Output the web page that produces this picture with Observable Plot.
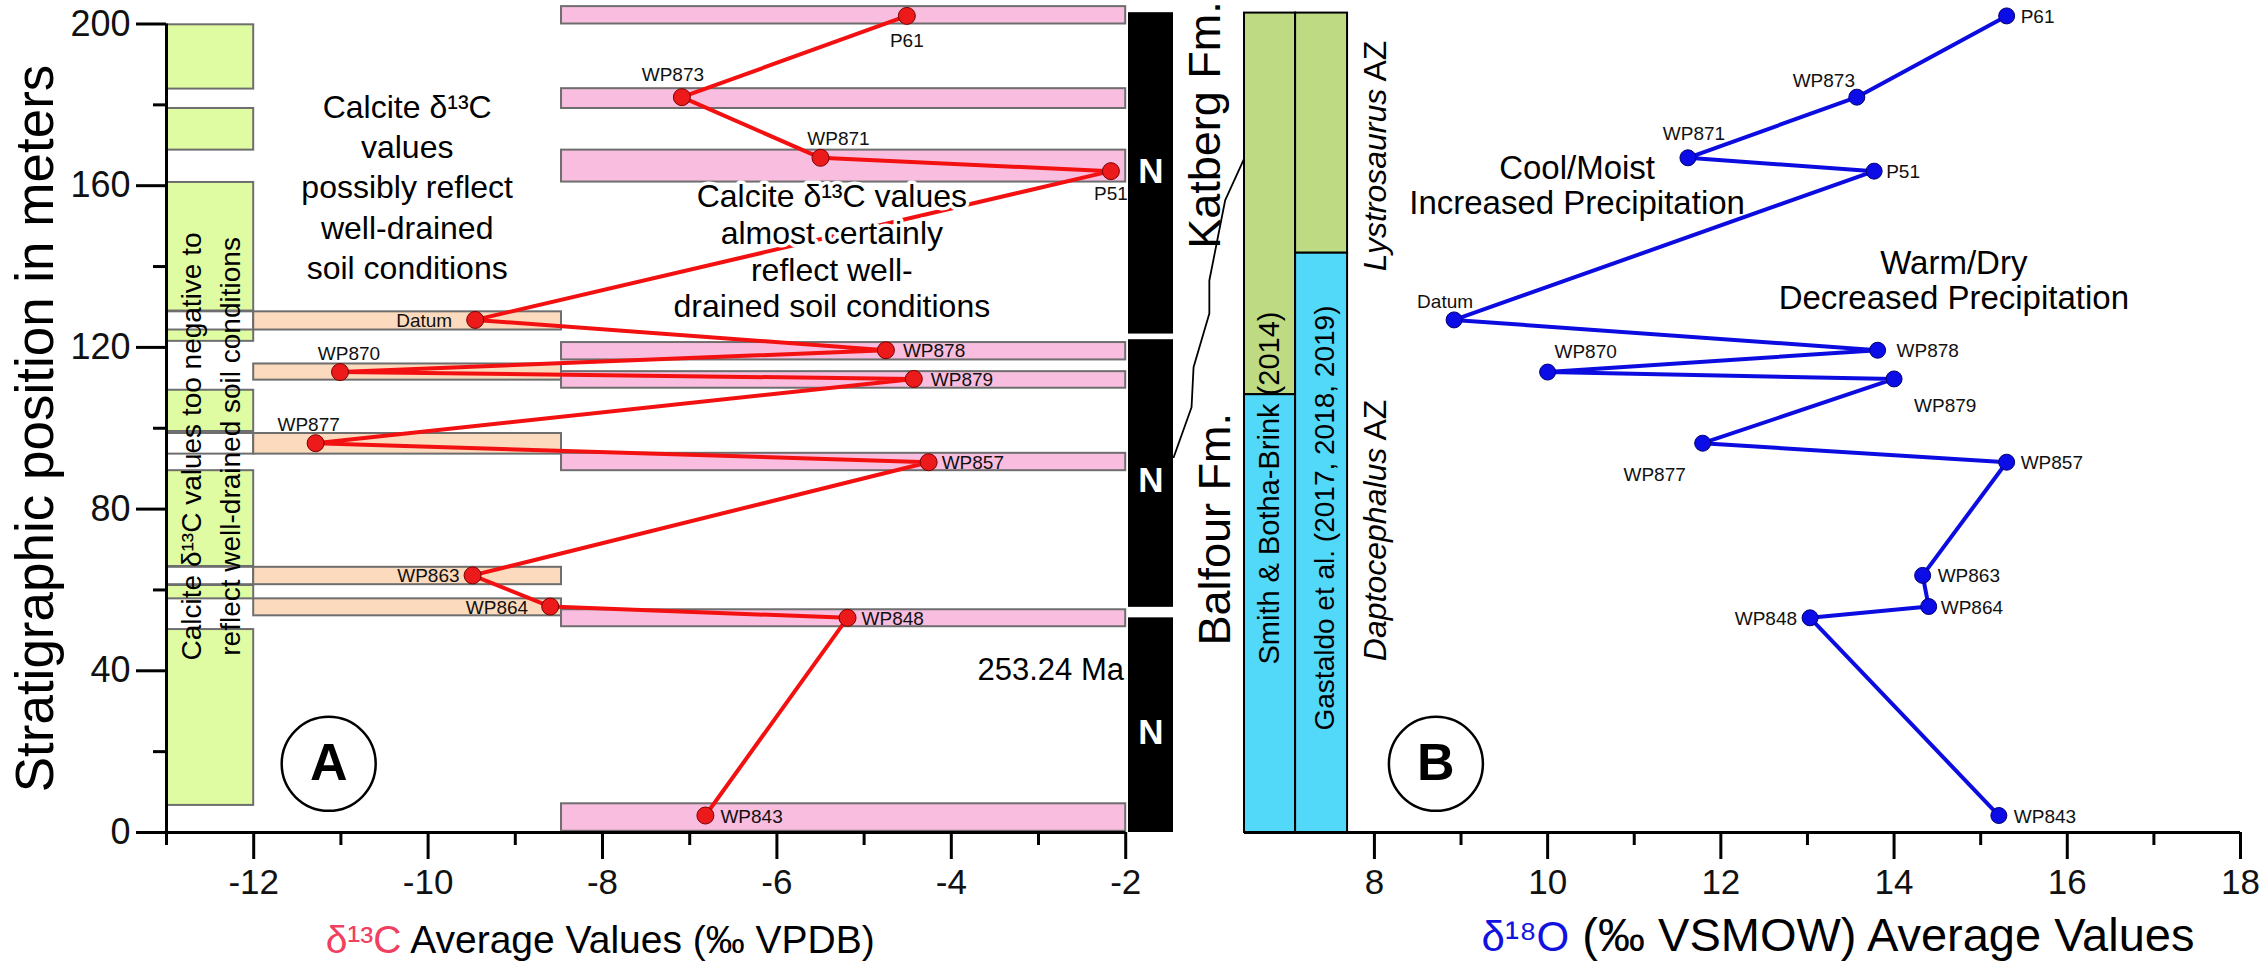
<!DOCTYPE html>
<html><head><meta charset="utf-8">
<script src="https://cdn.jsdelivr.net/npm/d3@7"></script>
<script src="https://cdn.jsdelivr.net/npm/@observablehq/plot@0.6"></script>
<style>
body{margin:0;background:#fff;}
#wrap{position:relative;width:2263px;height:978px;overflow:hidden;background:#fff;}
#wrap svg{position:absolute;left:0;top:0;}
</style></head><body><div id="wrap"></div>
<script>
// ---------- data ----------
const samples = ["P61","WP873","WP871","P51","Datum","WP878","WP870","WP879","WP877","WP857","WP863","WP864","WP848","WP843"];
const heightM = [202.0,181.9,166.9,163.6,126.8,119.3,113.9,112.2,96.3,91.6,63.6,55.9,53.1,4.2];
const d13C = [-4.51,-7.09,-5.50,-2.17,-9.46,-4.75,-11.01,-4.43,-11.29,-4.26,-9.49,-8.60,-5.19,-6.82];
const d18O = [15.30,13.57,11.62,13.77,8.92,13.81,10.00,14.00,11.79,15.30,14.33,14.40,13.03,15.21];

// paleosol layers (bottom, top in m)
const pinkLayers = [[200.0,204.3],[179.1,184.0],[160.9,168.8],[116.9,121.2],[109.9,114.0],[89.5,93.8],[50.9,55.1],[0.3,7.1]];
const orangeLayers = [[124.3,128.8],[111.9,115.9],[93.6,98.7],[61.3,65.6],[53.6,57.8]];
const pinkRange = [-8.47, -2];
const orangeRange = [-12, -8.47];
// left column: "too negative" intervals
const greenColumn = [[183.9,199.8],[168.8,179.1],[129.0,160.8],[121.5,124.5],[99.2,109.4],[65.8,89.5],[57.8,61.1],[6.7,50.2]];
const whiteBoxes = [[124.3,128.8],[93.6,98.7],[61.3,65.6]];
const columnRange = [-13, -12];
// magnetostratigraphy (normal polarity)
const normalPolarity = [[123.3,202.8],[55.7,121.9],[0,53.1]];
const polarityRange = [-1.968, -1.452];
const polarityLabelM = [163.4, 87.1, 24.7];
// Katberg/Balfour boundary
const boundaryX = [-0.634,-0.860,-1.041,-1.041,-1.222,-1.245,-1.450];
const boundaryM = [167.05,156.34,136.55,128.39,115.10,105.21,92.84];
// biozone columns
const biozoneAuthors = ["Smith & Botha-Brink (2014)", "Gastaldo et al. (2017, 2018, 2019)"];
const biozoneX = [[6.5,7.09],[7.09,7.69]];
const lystroBase = [108.3, 143.3];
const zoneTop = 202.7;

// axes
const yTicks = [0,40,80,120,160,200];
const yMinor = [20,60,100,140,180];
const cTicks = [-12,-10,-8,-6,-4,-2];
const cMinor = [-13,-11,-9,-7,-5,-3];
const oTicks = [8,10,12,14,16,18];
const oMinor = [9,11,13,15,17];

const rows = samples.map((s,i)=>({sample:s, m:heightM[i], c:d13C[i], o:d18O[i]}));

// ---------- styling ----------
const font = "Liberation Sans, Arial, Helvetica, sans-serif";
const W = 2263, H = 978;
const rect2 = (arr)=>arr.map(([a,b])=>({y1:a,y2:b}));

const offC = {P61:[0,25,"middle"],WP873:[-9,-22,"middle"],WP871:[18,-19,"middle"],P51:[0,23,"middle"],
  Datum:[-23,1,"end"],WP878:[17,1,"start"],WP870:[9,-18,"middle"],WP879:[17,1,"start"],WP877:[-7,-18,"middle"],
  WP857:[13,1,"start"],WP863:[-13,1,"end"],WP864:[-22,1,"end"],WP848:[14,1,"start"],WP843:[15,1,"start"]};
const offO = {P61:[14,1,"start"],WP873:[-33,-16,"middle"],WP871:[6,-24,"middle"],P51:[12,1,"start"],
  Datum:[-9,-18,"middle"],WP878:[19,1,"start"],WP870:[38,-20,"middle"],WP879:[20,27,"start"],WP877:[-48,32,"middle"],
  WP857:[14,1,"start"],WP863:[15,1,"start"],WP864:[12,1,"start"],WP848:[-13,1,"end"],WP843:[15,1,"start"]};

function labels(key, off){
  return rows.map(r=>{const [dx,dy,a]=off[r.sample];
    return Plot.text([r],{x:key,y:"m",text:"sample",dx,dy,textAnchor:a,fontSize:19,fill:"#111",fontFamily:font});});
}

// ---------- left panel ----------
const left = Plot.plot({
  width:W, height:H, marginLeft:166, marginRight:W-1250, marginTop:0, marginBottom:H-832,
  x:{domain:[-13,-0.569], range:[166,1250]},
  y:{domain:[0,200], range:[832,23.5]},
  style:{fontFamily:font, background:"white", overflow:"visible"},
  marks:[
    Plot.rect(rect2(greenColumn),{x1:columnRange[0],x2:columnRange[1],y1:"y1",y2:"y2",fill:"#e0fca2",stroke:"#6e6e6e",strokeWidth:2}),
    Plot.rect(rect2(whiteBoxes),{x1:columnRange[0],x2:columnRange[1],y1:"y1",y2:"y2",fill:"white",stroke:"#6e6e6e",strokeWidth:2}),
    Plot.rect(rect2(orangeLayers),{x1:orangeRange[0],x2:orangeRange[1],y1:"y1",y2:"y2",fill:"#fcdabd",stroke:"#6e6e6e",strokeWidth:2}),
    Plot.rect(rect2(pinkLayers),{x1:pinkRange[0],x2:pinkRange[1],y1:"y1",y2:"y2",fill:"#f9bedf",stroke:"#6e6e6e",strokeWidth:2}),
    Plot.rect(rect2(normalPolarity),{x1:polarityRange[0],x2:polarityRange[1],y1:"y1",y2:"y2",fill:"black"}),
    Plot.text(polarityLabelM,{x:(polarityRange[0]+polarityRange[1])/2,y:d=>d,text:()=>"N",fill:"white",fontWeight:"bold",fontSize:35,fontFamily:font}),
    Plot.line(boundaryX.map((x,i)=>({x,m:boundaryM[i]})),{x:"x",y:"m",stroke:"black",strokeWidth:1.8}),
    Plot.text(["Katberg Fm."],{x:-1.085,y:175,text:d=>d,rotate:-90,fontSize:45,fontFamily:font}),
    Plot.text(["Balfour Fm."],{x:-0.97,y:75,text:d=>d,rotate:-90,fontSize:45,fontFamily:font}),
    Plot.text(["Calcite δ¹³C values too negative to\nreflect well-drained soil conditions"],{x:-12.52,y:95.5,text:d=>d,rotate:-90,fontSize:28,lineHeight:1.38,fontFamily:font}),
    Plot.text(["Calcite δ¹³C\nvalues\npossibly reflect\nwell-drained\nsoil conditions"],{x:-10.24,y:160.1,text:d=>d,fontSize:32,lineHeight:1.26,fontFamily:font}),
    Plot.line(rows,{x:"c",y:"m",stroke:"#f21010",strokeWidth:4}),
    Plot.text(["Calcite δ¹³C values\nalmost certainly\nreflect well-\ndrained soil conditions"],{x:-5.37,y:144.0,text:d=>d,fontSize:32,lineHeight:1.15,fontFamily:font,fill:"black",stroke:"white",strokeWidth:7,strokeLinejoin:"round",paintOrder:"stroke"}),
    Plot.dot(rows,{x:"c",y:"m",r:8.5,fill:"#ec1a1a",stroke:"#7a0000",strokeWidth:1}),
    ...labels("c", offC),
    Plot.text(["253.24 Ma"],{x:-2.02,y:40.1,text:d=>d,textAnchor:"end",fontSize:31,fontFamily:font}),
    Plot.dot([0],{x:-11.14,y:17,r:47,fill:"white",stroke:"black",strokeWidth:2.5}),
    Plot.text(["A"],{x:-11.14,y:17,text:d=>d,fontSize:52,fontWeight:"bold",fontFamily:font}),
    Plot.ruleY([0],{x1:-13,x2:-2,strokeWidth:3}),
    Plot.ruleX([-13],{y1:0,y2:200,strokeWidth:3}),
    Plot.axisY({ticks:yTicks,tickSize:30,tickPadding:6,fontSize:36,strokeWidth:3,tickFormat:d=>String(d),label:null,fontFamily:font,fill:"#111"}),
    Plot.axisY({ticks:yMinor,tickSize:13,strokeWidth:3,tickFormat:()=>"",label:null}),
    Plot.axisX({ticks:cTicks,tickSize:27,tickPadding:10,fontSize:35,strokeWidth:3,tickFormat:d=>String(d),label:null,fontFamily:font,fill:"#111"}),
    Plot.axisX({ticks:cMinor,tickSize:13,strokeWidth:3,tickFormat:()=>"",label:null}),
    Plot.text(["Stratigraphic position in meters"],{frameAnchor:"left",dx:-130,dy:12,text:d=>d,rotate:-90,textAnchor:"middle",fontSize:53,fontFamily:font}),
    Plot.text(["δ¹³C"],{x:-10.305,frameAnchor:"bottom",dy:120,text:d=>d,textAnchor:"end",fontSize:39,fill:"#f0405f",fontFamily:font}),
    Plot.text([" Average Values (‰ VPDB)"],{x:-10.305,frameAnchor:"bottom",dy:120,text:d=>d,textAnchor:"start",fontSize:39,fontFamily:font})
  ]
});

// ---------- right panel ----------
const zoneRects = [];
biozoneX.forEach((xr,i)=>{
  zoneRects.push({x1:xr[0],x2:xr[1],y1:lystroBase[i],y2:zoneTop,zone:"L"});
  zoneRects.push({x1:xr[0],x2:xr[1],y1:0,y2:lystroBase[i],zone:"D"});
});
const right = Plot.plot({
  width:W, height:H, marginLeft:1244, marginRight:23, marginTop:0, marginBottom:H-832,
  x:{domain:[6.5,18], range:[1244,2240]},
  y:{domain:[0,200], range:[832,23.5], axis:null},
  style:{fontFamily:font, background:"transparent", overflow:"visible"},
  marks:[
    Plot.rect(zoneRects,{x1:"x1",x2:"x2",y1:"y1",y2:"y2",fill:d=>d.zone==="L"?"#bedb84":"#52d8f8",stroke:"black",strokeWidth:2}),
    Plot.text([biozoneAuthors[0]],{x:6.79,y:85.2,text:d=>d,rotate:-90,fontSize:29,fontFamily:font}),
    Plot.text([biozoneAuthors[1]],{x:7.43,y:77.8,text:d=>d,rotate:-90,fontSize:28,fontFamily:font}),
    Plot.text(["Lystrosaurus"],{x:8.01,y:184,text:d=>d,rotate:-90,textAnchor:"end",fontStyle:"italic",fontSize:32,fontFamily:font}),
    Plot.text([" AZ"],{x:8.01,y:184,text:d=>d,rotate:-90,textAnchor:"start",fontSize:32,fontFamily:font}),
    Plot.text(["Daptocephalus"],{x:8.01,y:95.2,text:d=>d,rotate:-90,textAnchor:"end",fontStyle:"italic",fontSize:32,fontFamily:font}),
    Plot.text([" AZ"],{x:8.01,y:95.2,text:d=>d,rotate:-90,textAnchor:"start",fontSize:32,fontFamily:font}),
    Plot.text(["Cool/Moist\nIncreased Precipitation"],{x:10.34,y:160.2,text:d=>d,fontSize:33,lineHeight:1.06,fontFamily:font}),
    Plot.text(["Warm/Dry\nDecreased Precipitation"],{x:14.69,y:136.5,text:d=>d,fontSize:33,lineHeight:1.06,fontFamily:font}),
    Plot.line(rows,{x:"o",y:"m",stroke:"#0c0ce0",strokeWidth:4}),
    Plot.dot(rows,{x:"o",y:"m",r:8,fill:"#0c0ce6",stroke:"#00006e",strokeWidth:1}),
    ...labels("o", offO),
    Plot.dot([0],{x:8.71,y:17,r:47,fill:"white",stroke:"black",strokeWidth:2.5}),
    Plot.text(["B"],{x:8.71,y:17,text:d=>d,fontSize:52,fontWeight:"bold",fontFamily:font}),
    Plot.ruleY([0],{x1:6.5,x2:18,strokeWidth:3}),
    Plot.axisX({ticks:oTicks,tickSize:27,tickPadding:10,fontSize:35,strokeWidth:3,tickFormat:d=>String(d),label:null,fontFamily:font,fill:"#111"}),
    Plot.axisX({ticks:oMinor,tickSize:13,strokeWidth:3,tickFormat:()=>"",label:null}),
    Plot.text(["δ¹⁸O"],{x:10.25,frameAnchor:"bottom",dy:118,text:d=>d,textAnchor:"end",fontSize:42,fill:"#1212e0",fontFamily:font}),
    Plot.text([" (‰ VSMOW) Average Values"],{x:10.25,frameAnchor:"bottom",dy:118,text:d=>d,textAnchor:"start",fontSize:47,fontFamily:font})
  ]
});

const wrap = document.getElementById("wrap");
wrap.appendChild(left);
wrap.appendChild(right);
</script>
</body></html>
